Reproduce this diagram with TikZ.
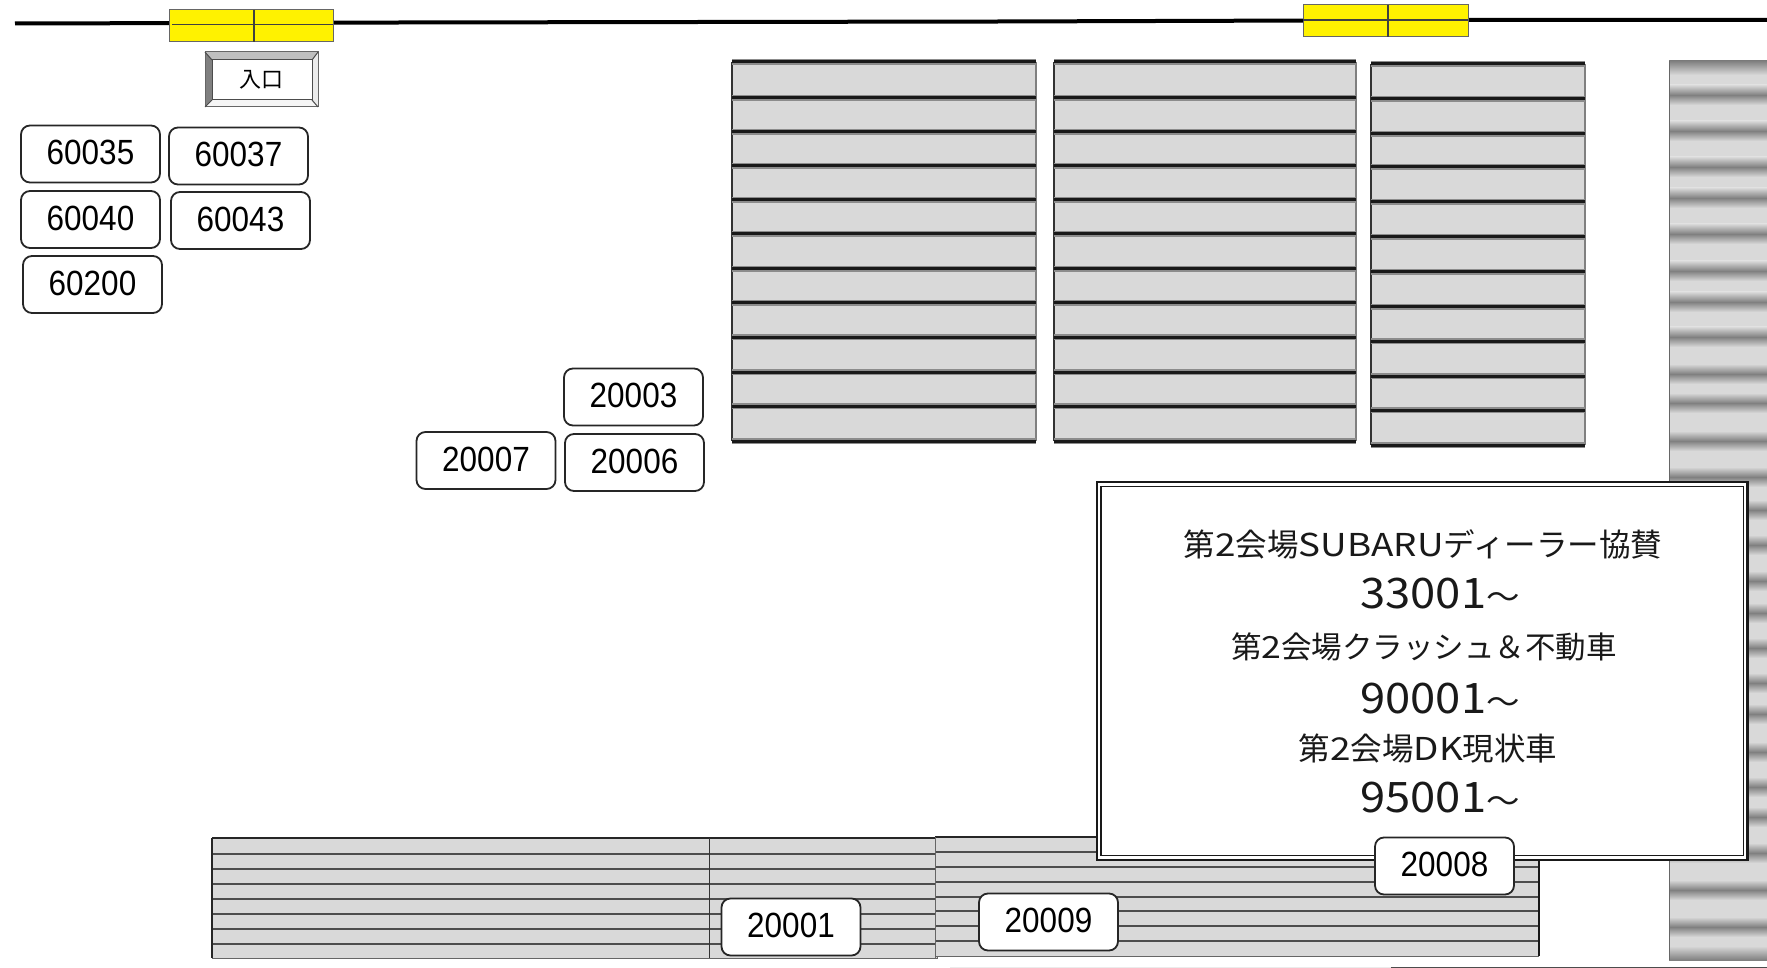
\documentclass[tikz,border=0pt]{standalone}
\usepackage{fontspec}
\usepackage{tikz}
\setmainfont{Liberation Sans}
\newfontfamily\numfont[FakeStretch=0.9]{Liberation Sans}
\newfontfamily\cjk{Noto Sans CJK JP}
\newfontfamily\cjkwide[FakeStretch=1.17]{Noto Sans CJK JP}
\newfontfamily\cjkmid[FakeStretch=1.08]{Noto Sans CJK JP}
\definecolor{rowfill}{HTML}{D9D9D9}
\definecolor{rowhalo}{HTML}{8C8C8C}
\definecolor{bandgray}{HTML}{808080}
\definecolor{botline}{HTML}{4D4D4D}
\tikzstyle{numbox} = [rectangle, rounded corners=9pt, minimum width=139pt, minimum height=57pt, inner sep=0pt, text centered, text depth=3pt, draw=black!85, line width=1.8pt, fill=white, font=\numfont\fontsize{35}{35}\selectfont]
\tikzstyle{gate} = [draw=black!60, line width=1pt, fill=yellow]
\tikzstyle{gateline} = [draw=black!75, line width=1.5pt]
\tikzstyle{halo} = [draw=rowhalo, line width=6.5pt]
\tikzstyle{rowline} = [draw=black!90, line width=3pt]
\tikzstyle{botrow} = [draw=botline, line width=2pt]
\tikzstyle{infotext} = [inner sep=0pt, font=\cjk\fontsize{31.5}{31.5}\selectfont, text=black!90]
\tikzstyle{infonum} = [inner sep=0pt, font=\cjkmid\fontsize{42}{42}\selectfont, text=black!90]

\begin{document}
\begin{tikzpicture}[x=1pt, y=-1pt, node distance=65pt]
\useasboundingbox (0,0) rectangle (1767,968);

% top fence and gates
\draw [line width=4pt, black] (15,23.5) -- (400,22.5) -- (1000,21.5) -- (1470,20) -- (1767,20);
\draw [gate] (169,10) rectangle (333,42);
\draw [gateline] (172,24.5) -- (333,24.5);
\draw [gateline] (254,10) -- (254,42);
\draw [gate] (1303,5) rectangle (1468,37);
\draw [gateline] (1303,20) -- (1468,20);
\draw [gateline] (1388,5) -- (1388,37);

% entrance button
\fill [black!25] (205,52) -- (318,52) -- (312,60) -- (212,60) -- cycle;
\fill [black!50] (205,52) -- (212,60) -- (212,100) -- (205,107) -- cycle;
\fill [black!4] (205,107) -- (318,107) -- (312,100) -- (212,100) -- cycle;
\fill [black!8] (318,52) -- (318,107) -- (312,100) -- (312,60) -- cycle;
\draw [black!60, line width=1pt] (205,52) rectangle (318,107);
\draw [black!70, line width=1pt] (205,52) -- (212,60) (318,52) -- (312,60) (205,107) -- (212,100) (318,107) -- (312,100);
\node (entry) [rectangle, draw=black!70, line width=1pt, fill=white, minimum width=100pt, minimum height=40pt, inner sep=0pt, font=\cjk\fontsize{22}{22}\selectfont] at (262,80) {\hspace{-2pt}入口};

% upper parking rows
\foreach \xa/\xb in {732/1036,1054/1356} {
\fill [rowfill] (\xa,62) rectangle (\xb,441);
\draw [black!80, line width=2pt] (\xa,62) -- (\xa,441);
\draw [black!50, line width=2pt] (\xb,62) -- (\xb,441);
\foreach \yy in {62,98,132,166,200,234,269,303,337,372,406,441} {
\draw [halo] (\xa,\yy) -- (\xb,\yy);
\draw [rowline] (\xa,\yy) -- (\xb,\yy);
}
}
\fill [rowfill] (1371,64) rectangle (1585,445);
\draw [black!80, line width=2pt] (1371,64) -- (1371,445);
\draw [black!50, line width=2pt] (1585,64) -- (1585,445);
\foreach \yy in {64,99,134,167,202,237,272,307,341,376,410,445} {
\draw [halo] (1371,\yy) -- (1585,\yy);
\draw [rowline] (1371,\yy) -- (1585,\yy);
}

% blurred strip at the right
\fill [rowfill] (1669,61) rectangle (1767,960);
\shade [top color=bandgray, bottom color=rowfill] (1669,61) rectangle (1767,75);
\foreach \yy in {95,131,167,198,234,271,302,337,374,403,441,477,510,545,581,613,648,683,714,752,787,817,853,890,927} {
\shade [top color=rowfill, bottom color=rowfill, middle color=bandgray] (1669,\yy-10) rectangle (1767,\yy+10);
}
\shade [top color=rowfill, bottom color=bandgray] (1669,946) rectangle (1767,960);
\draw [black!60, line width=1.5pt] (1669.5,61) -- (1669.5,960);

% lower parking rows
\fill [rowfill] (212,838) rectangle (937,958);
\foreach \yy in {854,869,884,899,914,929,944} {
\draw [botrow] (212,\yy) -- (937,\yy);
}
\draw [black!85, line width=1.5pt] (212,838) -- (937,838);
\draw [black!85, line width=1.5pt] (212,838) -- (212,958);
\draw [black!60, line width=1pt] (212,958) -- (937,958) -- (937,838);
\draw [black!80, line width=1pt] (709,838) -- (709,958);

\fill [rowfill] (935,837) rectangle (1539,956);
\foreach \yy in {852,867,882,897,911,926,941} {
\draw [botrow] (935,\yy) -- (1539,\yy);
}
\draw [black!85, line width=1.5pt] (935,837) -- (1539,837);
\draw [black!60, line width=1pt] (935,837) -- (935,958);
\draw [black!60, line width=1pt] (935,956) -- (1539,956);
\draw [black!90, line width=1.5pt] (1539,857) -- (1539,956);

% bottom edge
\draw [black!8, line width=1.5pt] (950,967.5) -- (1391,967.5);
\draw [black!70, line width=1.5pt] (1391,967.5) -- (1767,967.5);

% notice board
\draw [black!90, line width=2.5pt, fill=white] (1097,482) rectangle (1747.5,860);
\draw [black!90, line width=1.5pt, fill=white] (1101,486.5) rectangle (1743.5,855.5);
\node (title1) [infotext] at (1423,544) {第{\cjkwide 2}会場{\cjkwide SUBARU}ディーラー協賛};
\node (num1) [infonum] at (1440,594) {33001{\fontsize{31}{31}\selectfont ～}};
\node (title2) [infotext, font=\cjk\fontsize{30.5}{30.5}\selectfont] at (1424,647) {第{\cjkwide 2}会場クラッシュ＆不動車};
\node (num2) [infonum] at (1440,699) {90001{\fontsize{31}{31}\selectfont ～}};
\node (title3) [infotext] at (1428,749) {第{\cjkwide 2}会場{\cjkwide DK}現状車};
\node (num3) [infonum] at (1440,798) {95001{\fontsize{31}{31}\selectfont ～}};

% number boxes
\node (box60035) [numbox] at (90.5,154) {60035};
\node (box60037) [numbox, right of=box60035, xshift=83pt, yshift=-2pt] {60037};
\node (box60040) [numbox, below of=box60035, yshift=-0.5pt] {60040};
\node (box60043) [numbox, right of=box60040, xshift=85pt, yshift=-1pt] {60043};
\node (box60200) [numbox, below of=box60040, xshift=2pt] {60200};
\node (box20003) [numbox] at (633.5,397) {20003};
\node (box20006) [numbox, below of=box20003, xshift=1pt, yshift=-0.5pt] {20006};
\node (box20007) [numbox] at (486,460.5) {20007};
\node (box20001) [numbox] at (791,927) {20001};
\node (box20009) [numbox] at (1048.5,922) {20009};
\node (box20008) [numbox] at (1444.5,866) {20008};
\end{tikzpicture}
\end{document}
